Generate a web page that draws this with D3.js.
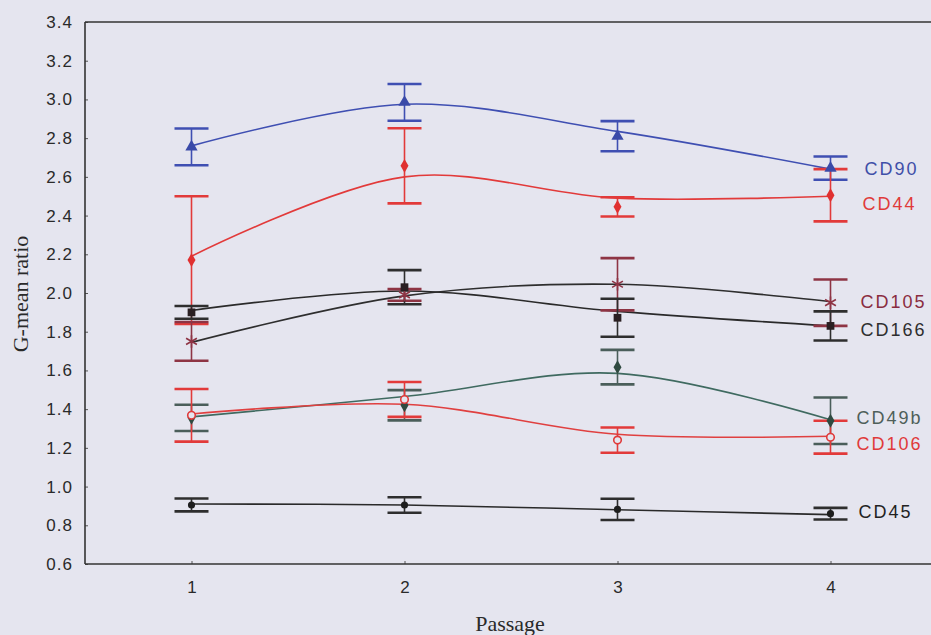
<!DOCTYPE html>
<html>
<head>
<meta charset="utf-8">
<script src="https://cdn.jsdelivr.net/npm/d3@7"></script>
<style>
  html, body { margin: 0; padding: 0; background: #e5e5ef; }
  svg { display: block; }
</style>
</head>
<body>
<svg id="chart" width="931" height="635"></svg>
<script>
// ---------------- DATA ----------------
const passages = [1, 2, 3, 4];
const yTickValues = [0.6, 0.8, 1.0, 1.2, 1.4, 1.6, 1.8, 2.0, 2.2, 2.4, 2.6, 2.8, 3.0, 3.2, 3.4];
const seriesNames = ["CD90", "CD44", "CD105", "CD166", "CD49b", "CD106", "CD45"];

// means (marker positions)
const cd90Mean  = [2.755, 2.985, 2.81, 2.645];
const cd44Mean  = [2.17, 2.657, 2.445, 2.505];
const cd105Mean = [1.75, 1.99, 2.045, 1.95];
const cd166Mean = [1.90, 2.03, 1.872, 1.83];
const cd49bMean = [1.355, 1.42, 1.617, 1.34];
const cd106Mean = [1.368, 1.45, 1.24, 1.255];
const cd45Mean  = [0.905, 0.905, 0.882, 0.86];

// error half-widths
const cd90Err  = [0.095, 0.095, 0.078, 0.06];
const cd44Err  = [0.33, 0.194, 0.05, 0.135];
const cd105Err = [0.10, 0.03, 0.135, 0.12];
const cd166Err = [0.033, 0.088, 0.098, 0.075];
const cd49bErr = [0.068, 0.078, 0.089, 0.12];
const cd106Err = [0.136, 0.09, 0.065, 0.085];
const cd45Err  = [0.033, 0.04, 0.055, 0.03];

// smoothed fit curve values at each passage
const cd90Fit  = [2.76, 2.975, 2.835, 2.64];
const cd44Fit  = [2.19, 2.60, 2.49, 2.50];
const cd105Fit = [1.745, 1.985, 2.045, 1.955];
const cd166Fit = [1.91, 2.01, 1.905, 1.83];
const cd49bFit = [1.36, 1.465, 1.585, 1.345];
const cd106Fit = [1.375, 1.425, 1.27, 1.26];
const cd45Fit  = [0.91, 0.905, 0.88, 0.855];

// ---------------- STYLE ----------------
const styles = {
  CD90:  { line: "#3f4fb2", bar: "#3f4fb2", mark: "triangle", fill: "#3a4aa8", text: "#3f4fa8", ldx: 4, ldy: 0 },
  CD44:  { line: "#e23a3a", bar: "#e23a3a", mark: "diamond",  fill: "#e03030", text: "#e03a3a", ldx: 2, ldy: 8 },
  CD105: { line: "#2e2e2e", bar: "#8e3444", mark: "asterisk", fill: "#8e3444", text: "#8a2c40", ldx: 0, ldy: -1 },
  CD166: { line: "#2a2a2a", bar: "#2e2e2e", mark: "square",   fill: "#2a1f22", text: "#2e2e2e", ldx: 0, ldy: 4 },
  CD49b: { line: "#3f6a60", bar: "#4a5e5a", mark: "diamond",  fill: "#2f4a40", text: "#4f5f5a", ldx: -4, ldy: -3 },
  CD106: { line: "#e04040", bar: "#e23a3a", mark: "circleOpen", fill: "none", text: "#e03a3a", ldx: -4, ldy: 6 },
  CD45:  { line: "#2a2a2a", bar: "#2e2e2e", mark: "dot",      fill: "#1e1e1e", text: "#222222", ldx: -2, ldy: -2 }
};

const seriesData = {
  CD90:  { mean: cd90Mean,  err: cd90Err,  fit: cd90Fit },
  CD44:  { mean: cd44Mean,  err: cd44Err,  fit: cd44Fit },
  CD105: { mean: cd105Mean, err: cd105Err, fit: cd105Fit },
  CD166: { mean: cd166Mean, err: cd166Err, fit: cd166Fit },
  CD49b: { mean: cd49bMean, err: cd49bErr, fit: cd49bFit },
  CD106: { mean: cd106Mean, err: cd106Err, fit: cd106Fit },
  CD45:  { mean: cd45Mean,  err: cd45Err,  fit: cd45Fit }
};

// ---------------- CHART ----------------
const W = 931, H = 635;
const mLeft = 85, mTop = 22, mBottom = 564;
const svg = d3.select("#chart");
svg.append("rect").attr("width", W).attr("height", H).attr("fill", "#e5e5ef");

const x = d3.scaleLinear().domain([0.5, 4.5]).range([mLeft, 937]);
const y = d3.scaleLinear().domain([0.6, 3.4]).range([mBottom, mTop]);

// axes
const yAxis = d3.axisLeft(y).tickValues(yTickValues).tickFormat(d3.format(".1f"))
  .tickSizeInner(-3).tickSizeOuter(0).tickPadding(12);
const gy = svg.append("g").attr("transform", `translate(${mLeft},0)`).call(yAxis);
gy.select(".domain").remove();
gy.selectAll("line").attr("stroke", "#555").attr("stroke-width", 1);
gy.selectAll("text").attr("font-family", "'Liberation Sans', Arial, sans-serif")
  .attr("font-size", 17).attr("fill", "#2a2a2a").attr("letter-spacing", "1px");

const xAxis = d3.axisBottom(x).tickValues(passages).tickFormat(d3.format("d"))
  .tickSizeInner(-3).tickSizeOuter(0).tickPadding(17);
const gx = svg.append("g").attr("transform", `translate(0,${mBottom})`).call(xAxis);
gx.select(".domain").remove();
gx.selectAll("line").attr("stroke", "#555").attr("stroke-width", 1);
gx.selectAll("text").attr("font-family", "'Liberation Sans', Arial, sans-serif")
  .attr("font-size", 17).attr("fill", "#2a2a2a");

// frame
const frame = svg.append("g").attr("stroke", "#333").attr("stroke-width", 1.6).attr("fill", "none");
frame.append("line").attr("x1", mLeft).attr("x2", W).attr("y1", mTop).attr("y2", mTop);
frame.append("line").attr("x1", mLeft).attr("x2", W).attr("y1", mBottom).attr("y2", mBottom);
frame.append("line").attr("x1", mLeft).attr("x2", mLeft).attr("y1", mTop).attr("y2", mBottom);

// axis titles
svg.append("text").attr("x", 510).attr("y", 631).attr("text-anchor", "middle")
  .attr("font-family", "'Liberation Serif', 'Times New Roman', serif").attr("font-size", 22)
  .attr("fill", "#2a2a2a").text("Passage");
svg.append("text").attr("transform", "translate(28,294) rotate(-90)").attr("text-anchor", "middle")
  .attr("font-family", "'Liberation Serif', 'Times New Roman', serif").attr("font-size", 22)
  .attr("fill", "#2a2a2a").text("G-mean ratio");

// fit curves
const lineGen = d3.line().x(d => x(d.p)).y(d => y(d.v)).curve(d3.curveCatmullRom.alpha(0.5));
const curves = svg.append("g");
seriesNames.forEach(name => {
  const s = seriesData[name];
  const pts = passages.map((p, i) => ({ p, v: s.fit[i] }));
  curves.append("path").attr("d", lineGen(pts)).attr("fill", "none")
    .attr("stroke", styles[name].line).attr("stroke-width", 1.6);
});

// error bars
const capHalf = 17;
const bars = svg.append("g");
seriesNames.forEach(name => {
  const s = seriesData[name];
  const st = styles[name];
  passages.forEach((p, i) => {
    const cx = x(p), hi = y(s.mean[i] + s.err[i]), lo = y(s.mean[i] - s.err[i]);
    bars.append("line").attr("x1", cx).attr("x2", cx).attr("y1", hi).attr("y2", lo)
      .attr("stroke", st.bar).attr("stroke-width", 1.6);
    [hi, lo].forEach(yy => bars.append("line").attr("x1", cx - capHalf).attr("x2", cx + capHalf)
      .attr("y1", yy).attr("y2", yy).attr("stroke", st.bar).attr("stroke-width", 2.6));
  });
});

// markers
const marks = svg.append("g");
const symbolMap = {
  triangle: [d3.symbolTriangle, 65],
  diamond: [d3.symbolDiamond, 55],
  square: [d3.symbolSquare, 60],
  asterisk: [d3.symbolAsterisk, 110],
  circleOpen: [d3.symbolCircle, 45],
  dot: [d3.symbolCircle, 40]
};
seriesNames.forEach(name => {
  const s = seriesData[name];
  const st = styles[name];
  const [type, size] = symbolMap[st.mark];
  const gen = d3.symbol().type(type).size(size);
  passages.forEach((p, i) => {
    const m = marks.append("path").attr("d", gen())
      .attr("transform", `translate(${x(p)},${y(s.mean[i])})`);
    if (st.mark === "asterisk") {
      m.attr("fill", "none").attr("stroke", st.fill).attr("stroke-width", 1.6);
    } else if (st.mark === "circleOpen") {
      m.attr("fill", "#e5e5ef").attr("stroke", "#e03a3a").attr("stroke-width", 1.6);
    } else {
      m.attr("fill", st.fill);
    }
  });
});

// series labels
const labels = svg.append("g");
seriesNames.forEach(name => {
  const s = seriesData[name];
  const st = styles[name];
  labels.append("text")
    .attr("x", x(4) + 30 + st.ldx)
    .attr("y", y(s.mean[3]) + st.ldy)
    .attr("dy", "0.36em")
    .attr("font-family", "'Liberation Sans', Arial, sans-serif")
    .attr("font-size", 18).attr("letter-spacing", "2px")
    .attr("fill", st.text).text(name);
});
</script>
</body>
</html>
